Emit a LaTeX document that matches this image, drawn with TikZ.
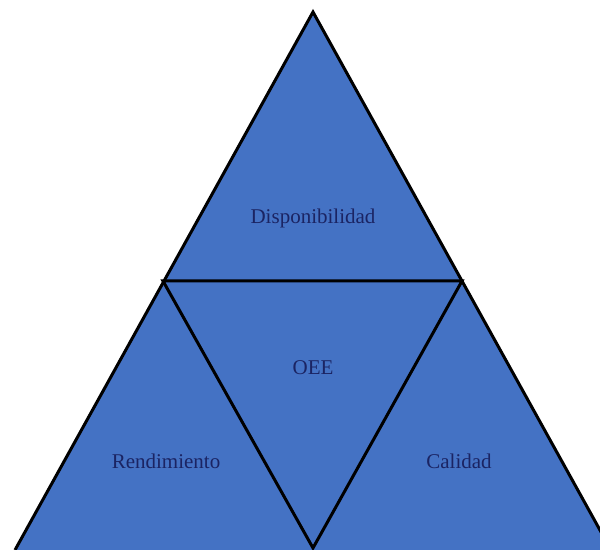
\documentclass[tikz,border=0pt]{standalone}
\usepackage{fontspec}
\setmainfont{Liberation Serif}
\definecolor{oeeblue}{HTML}{4472C4}
\definecolor{oeetext}{HTML}{1B2463}
\tikzset{
  edge/.style={line width=1.5pt, black},
  label/.style={text=oeetext, font=\fontsize{10.5}{12}\selectfont, inner sep=0pt}
}
\begin{document}
\begin{tikzpicture}[x=0.5pt,y=-0.5pt]
    \useasboundingbox (0,0) rectangle (600,550);
    \clip (0,0) rectangle (600,550);
    % corners of the pyramid
    \coordinate (top) at (313,12);
    \coordinate (bl) at (15,550);
    \coordinate (br) at (611,550);
    \coordinate (ml) at (163,281);
    \coordinate (mr) at (462,281);
    \coordinate (bm) at (313,548);
    \fill[oeeblue] (top) -- (br) -- (bl) -- cycle;
    \draw[edge] (bl) -- (top) -- (br);
    \draw[edge] (ml) -- (mr) -- (bm) -- cycle;
    % the four parts
    \node[label] (disp) at (313,218) {Disponibilidad};
    \node[label] (oee) at (313,368) {OEE};
    \node[label] (rend) at (166,461) {Rendimiento};
    \node[label] (cal) at (459,461) {Calidad};
  \end{tikzpicture}
\end{document}
